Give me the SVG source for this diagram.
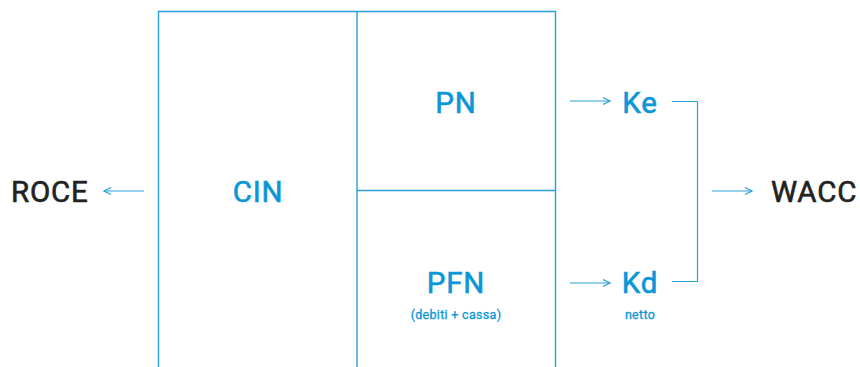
<svg xmlns="http://www.w3.org/2000/svg" width="860" height="367" viewBox="0 0 860 367">
  <defs>
    <marker id="open-arrow" viewBox="0 0 10 10" refX="9" refY="5" markerWidth="10" markerHeight="10" markerUnits="userSpaceOnUse" orient="auto">
      <path d="M2,1.5 L9,5 L2,8.5" fill="none" stroke="#2a9fd8" stroke-width="1.2"/>
    </marker>
  </defs>
  <style>
    .frame { fill: none; stroke: #2a9fd8; stroke-width: 1.4; }
    .conn { fill: none; stroke: #2a9fd8; stroke-width: 1.2; }
    .lbl { font-family: Roboto, "Liberation Sans", sans-serif; font-size: 29.5px; letter-spacing: 0.8px; fill: #0b96d8; stroke: #0b96d8; stroke-width: 0.6; text-anchor: middle; }
    .ext { font-family: Roboto, "Liberation Sans", sans-serif; font-size: 29.5px; letter-spacing: 0.8px; fill: #222222; stroke: #222222; stroke-width: 0.6; }
    .note { font-family: Roboto, "Liberation Sans", sans-serif; font-size: 12.5px; letter-spacing: 0.3px; fill: #0b96d8; stroke: #0b96d8; stroke-width: 0.3; text-anchor: middle; }
  </style>
  <rect width="860" height="367" fill="#ffffff"/>

  <!-- balance sheet frame: open at the bottom -->
  <g id="frame">
    <path class="frame" d="M158.5,367 V11.5 H555.5 V367"/>
    <path class="frame" d="M357,11.5 V367"/>
    <path class="frame" d="M357,190.5 H555.5"/>
  </g>

  <g id="cin"><text class="lbl" x="258" y="202">CIN</text></g>
  <g id="pn"><text class="lbl" x="456" y="113">PN</text></g>
  <g id="pfn">
    <text class="lbl" x="456" y="293">PFN</text>
    <text class="note" x="456" y="319">(debiti + cassa)</text>
  </g>
  <g id="ke"><text class="lbl" x="640" y="113">Ke</text></g>
  <g id="kd">
    <text class="lbl" x="640" y="293">Kd</text>
    <text class="note" x="640" y="319">netto</text>
  </g>
  <g id="roce"><text class="ext" x="11" y="202">ROCE</text></g>
  <g id="wacc"><text class="ext" x="771" y="202">WACC</text></g>

  <g id="connectors">
    <line class="conn" x1="144" y1="191" x2="104" y2="191" marker-end="url(#open-arrow)"/>
    <line class="conn" x1="570" y1="101" x2="610" y2="101" marker-end="url(#open-arrow)"/>
    <line class="conn" x1="570" y1="283" x2="610" y2="283" marker-end="url(#open-arrow)"/>
    <path class="conn" d="M672,101.5 H697.5 V281.5 H672"/>
    <line class="conn" x1="712" y1="191" x2="752" y2="191" marker-end="url(#open-arrow)"/>
  </g>
</svg>
